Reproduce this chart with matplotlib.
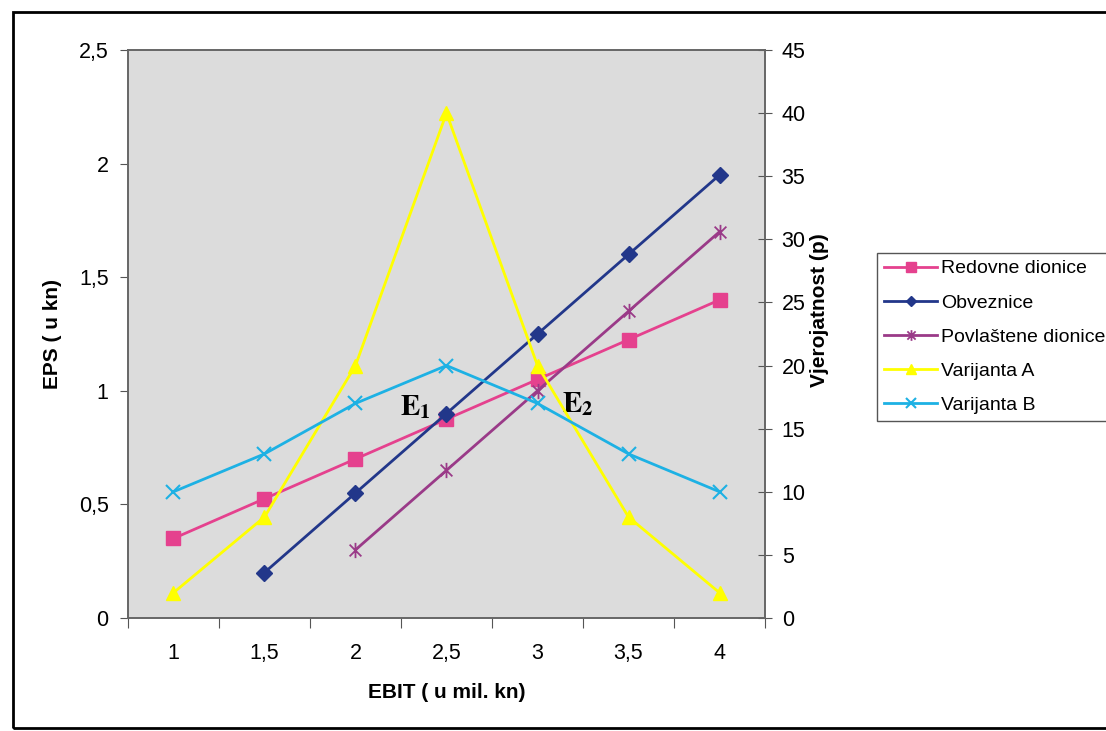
import numpy as np
import matplotlib.pyplot as plt
from matplotlib.path import Path
from matplotlib.patches import Rectangle
from matplotlib.ticker import FuncFormatter

plt.rcParams["font.family"] = ["Liberation Sans", "DejaVu Sans"]
plt.rcParams["mathtext.fontset"] = "stix"

# data
ebit = [1, 1.5, 2, 2.5, 3, 3.5, 4]
redovne = [0.35, 0.525, 0.7, 0.875, 1.05, 1.225, 1.4]
obveznice = [np.nan, 0.2, 0.55, 0.9, 1.25, 1.6, 1.95]
povlastene = [np.nan, np.nan, 0.3, 0.65, 1.0, 1.35, 1.7]
varijanta_a = [2, 8, 20, 40, 20, 8, 2]
varijanta_b = [10, 13, 17, 20, 17, 13, 10]

# excel style asterisk marker (x with vertical bar)
star = Path([(-1, -1), (1, 1), (-1, 1), (1, -1), (0, -1.3), (0, 1.3)],
            [Path.MOVETO, Path.LINETO] * 3)


def comma(v, pos):
    return ("%g" % v).replace(".", ",")


fig = plt.figure(figsize=(11.06, 7.31), dpi=100)
ax1 = fig.add_axes([0.1157, 0.1546, 0.576, 0.777])
ax1.set_facecolor("#DCDCDC")
ax2 = ax1.twinx()

l1, = ax1.plot(ebit, redovne, color="#E5418E", lw=2, marker="s", ms=10,
               label="Redovne dionice")
l2, = ax1.plot(ebit, obveznice, color="#22378A", lw=2, marker="D", ms=8,
               label="Obveznice")
l3, = ax1.plot(ebit, povlastene, color="#9A3A88", lw=2, marker=star, ms=11,
               mew=1.3, label="Povlaštene dionice")
l4, = ax2.plot(ebit, varijanta_a, color="#FFFF00", lw=2, marker="^", ms=10,
               label="Varijanta A")
l5, = ax2.plot(ebit, varijanta_b, color="#1DB1E4", lw=2, marker="x", ms=10,
               mew=1.5, label="Varijanta B")

ax1.set_xlim(0.75, 4.25)
ax1.set_ylim(0, 2.5)
ax2.set_ylim(0, 45)
ax1.set_yticks(np.arange(0, 2.51, 0.5))
ax2.set_yticks(np.arange(0, 46, 5))
ax1.yaxis.set_major_formatter(FuncFormatter(comma))

# category ticks between points, labels at the points
ax1.set_xticks(np.arange(0.75, 4.26, 0.5))
ax1.set_xticklabels([])
ax1.set_xticks(ebit, minor=True)
ax1.set_xticklabels([comma(v, 0) for v in ebit], minor=True)
ax1.tick_params(axis="x", which="minor", length=0, pad=18, labelsize=15.5)
ax1.tick_params(axis="x", which="major", length=7, color="#555555")
ax1.tick_params(axis="y", length=6, pad=8, labelsize=15.5, color="#555555")
ax2.tick_params(axis="y", direction="inout", length=10, pad=7, labelsize=15.5,
                color="#555555")

for ax in (ax1, ax2):
    for s in ax.spines.values():
        s.set_color("#666666")
        s.set_linewidth(1.2)

ax1.set_xlabel("EBIT ( u mil. kn)", fontsize=15, fontweight="bold")
ax1.set_ylabel("EPS ( u kn)", fontsize=15, fontweight="bold")
ax2.set_ylabel("Vjerojatnost (p)", fontsize=15, fontweight="bold")
ax1.xaxis.set_label_coords(0.5, -0.115)
ax1.yaxis.set_label_coords(-0.103, 0.5)
ax2.yaxis.set_label_coords(1.071, 0.542)

ax1.text(2.33, 0.93, r"$\mathbf{E}_\mathbf{1}$", fontsize=21,
         ha="center", va="center")
ax1.text(3.22, 0.94, r"$\mathbf{E}_\mathbf{2}$", fontsize=21,
         ha="center", va="center")

fig.legend(handles=[l1, l2, l3, l4, l5], loc="upper left",
           bbox_to_anchor=(877 / 1106, 1 - 253 / 731), borderaxespad=0,
           fontsize=14, handlelength=2.75, handletextpad=0.2,
           labelspacing=0.85, borderpad=0.35, markerscale=0.7,
           fancybox=False, edgecolor="#555555", framealpha=1)

# outer chart frame
fig.patches.append(Rectangle((13 / 1106, 1 - 728 / 731), 1.1,
                             (728 - 12) / 731, transform=fig.transFigure,
                             fill=False, edgecolor="black", lw=2))

fig.savefig("out.png", dpi=100)
